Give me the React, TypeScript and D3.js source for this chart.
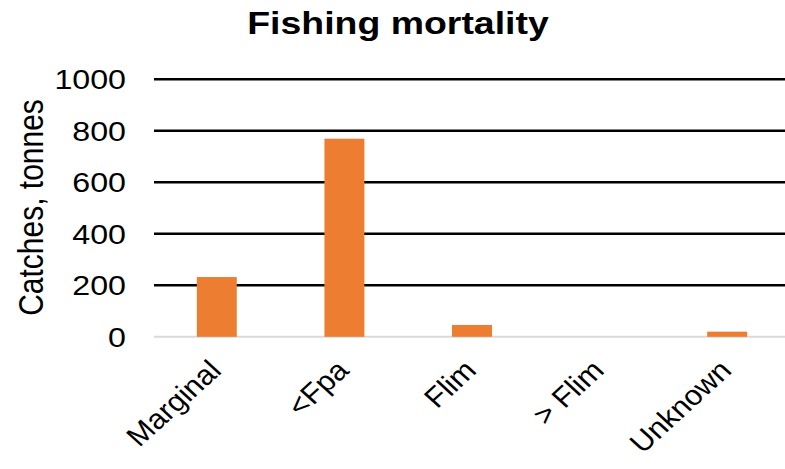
import React from "react";
import * as d3 from "d3";

const categories = ["Marginal", "<Fpa", "Flim", "> Flim", "Unknown"];
const catches = [232, 769, 46, 0, 20];
const yTicks = [0, 200, 400, 600, 800, 1000];
const title = "Fishing mortality";
const yTitle = "Catches, tonnes";

export default function App() {
  const W = 785;
  const H = 469;
  const x = d3.scaleBand<string>().domain(categories).range([153, 791]).padding(0);
  const y = d3.scaleLinear().domain([0, 1000]).range([336.8, 79.2]);
  const barW = x.bandwidth() * 0.313;
  const font = "Liberation Sans, Arial, sans-serif";
  const sx = 1.15;
  return (
    <svg width={W} height={H} style={{ position: "absolute", left: 0, top: 0, background: "#fff" }}>
      <text
        transform={`translate(398,34) scale(1.17,1)`}
        textAnchor="middle"
        fontFamily={font}
        fontWeight="bold"
        fontSize={32}
        fill="#000"
      >
        {title}
      </text>
      {yTicks.map((t) =>
        t === 0 ? (
          <line key={t} x1={154} x2={785} y1={y(t)} y2={y(t)} stroke="#d9d9d9" strokeWidth={2} />
        ) : (
          <line key={t} x1={154} x2={785} y1={y(t)} y2={y(t)} stroke="#000" strokeWidth={2.6} />
        )
      )}
      {yTicks.map((t) => (
        <text
          key={"l" + t}
          transform={`translate(126,${y(t)}) scale(${sx},1)`}
          dy="0.36em"
          textAnchor="end"
          fontFamily={font}
          fontSize={28}
          fill="#000"
        >
          {t}
        </text>
      ))}
      <text
        transform={`translate(43,207.5) scale(${sx},1) rotate(-90)`}
        textAnchor="middle"
        fontFamily={font}
        fontSize={30}
        fill="#000"
      >
        {yTitle}
      </text>
      {categories.map((c, i) => {
        const cx = (x(c) as number) + x.bandwidth() / 2;
        return (
          <rect
            key={c}
            x={cx - barW / 2}
            y={y(catches[i])}
            width={barW}
            height={y(0) - y(catches[i])}
            fill="#ED7D31"
          />
        );
      })}
      {categories.map((c) => {
        const cx = (x(c) as number) + x.bandwidth() / 2;
        return (
          <text
            key={"x" + c}
            transform={`translate(${cx + 6},372) scale(1.1,1) rotate(-45)`}
            textAnchor="end"
            fontFamily={font}
            fontSize={28}
            fill="#000"
          >
            {c}
          </text>
        );
      })}
    </svg>
  );
}
